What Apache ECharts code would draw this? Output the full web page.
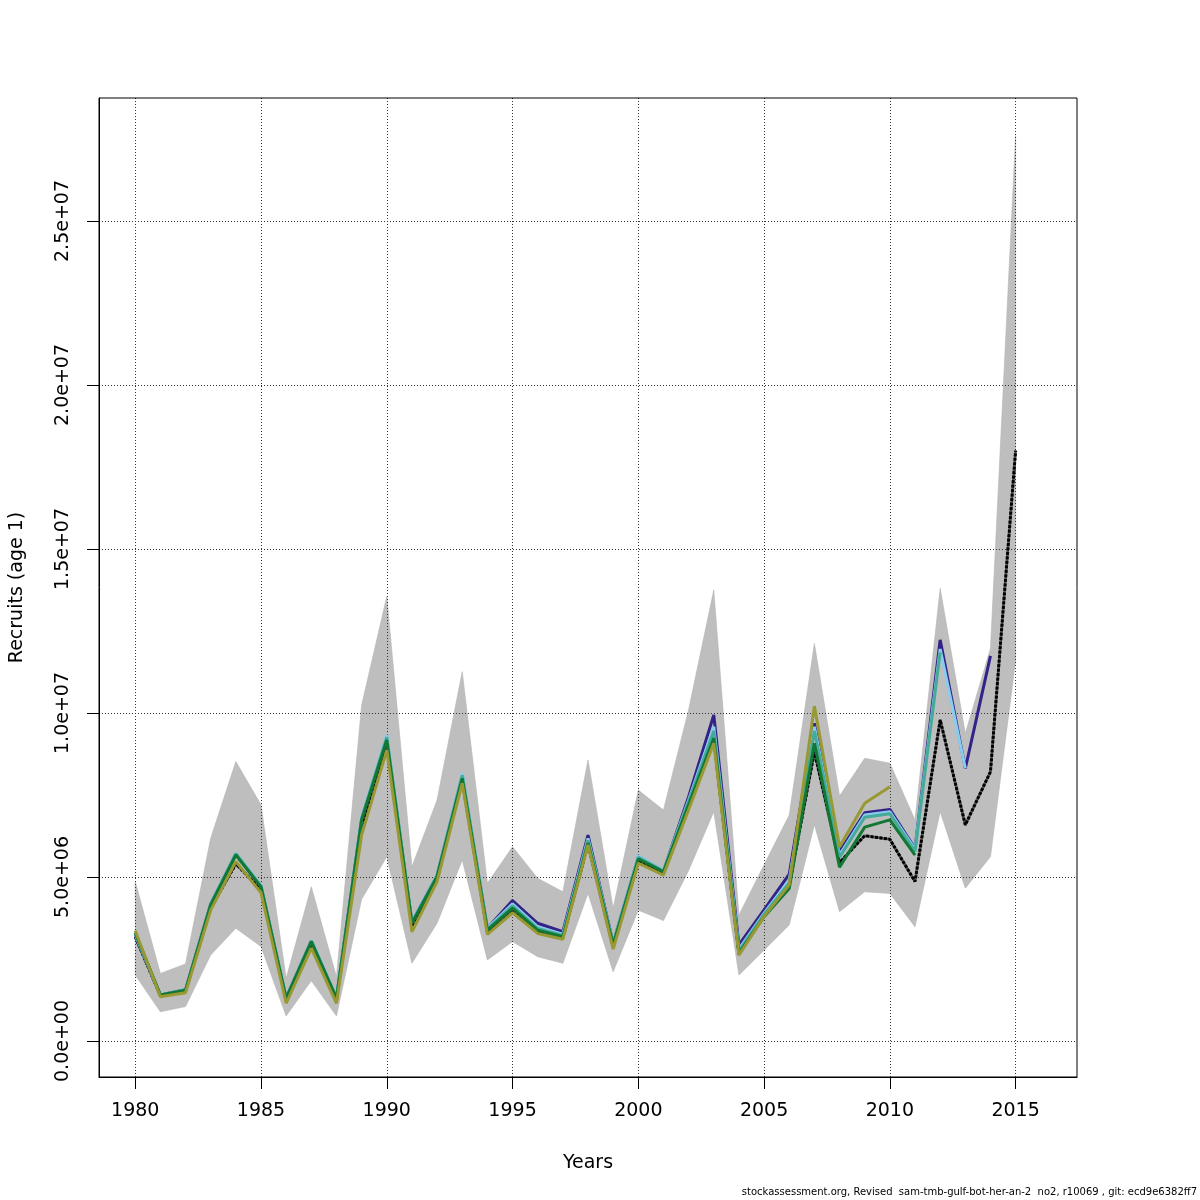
<!DOCTYPE html>
<html>
<head>
<meta charset="utf-8">
<script src="https://cdn.jsdelivr.net/npm/echarts@6/dist/echarts.min.js"></script>
<style>
  html, body { margin: 0; padding: 0; background: #fff; }
  #main { width: 1200px; height: 1200px; }
</style>
</head>
<body>
<div id="main"></div>
<script>
// recruits in millions
var years = [1980, 1981, 1982, 1983, 1984, 1985, 1986, 1987, 1988, 1989,
             1990, 1991, 1992, 1993, 1994, 1995, 1996, 1997, 1998, 1999,
             2000, 2001, 2002, 2003, 2004, 2005, 2006, 2007, 2008, 2009,
             2010, 2011, 2012, 2013, 2014, 2015];

var bandHigh = [4.86, 2.06, 2.35, 6.18, 8.52, 7.20, 1.91, 4.70, 1.96, 10.24,
                13.55, 5.31, 7.35, 11.26, 4.81, 5.92, 4.96, 4.55, 8.57, 4.05,
                7.65, 7.04, 10.10, 13.75, 3.84, 5.37, 6.89, 12.12, 7.47, 8.62,
                8.47, 6.74, 13.80, 9.38, 11.97, 27.60];
var bandLow = [2.01, 0.89, 1.05, 2.62, 3.44, 2.88, 0.76, 1.84, 0.76, 4.32,
               5.62, 2.37, 3.59, 5.52, 2.47, 3.03, 2.57, 2.37, 4.50, 2.11,
               3.99, 3.67, 5.20, 6.99, 2.01, 2.77, 3.54, 6.59, 3.94, 4.55,
               4.50, 3.48, 6.99, 4.66, 5.62, 11.60];

var fullRun = [3.18, 1.38, 1.53, 4.05, 5.40, 4.62, 1.25, 2.95, 1.25, 6.55,
               9.05, 3.50, 4.95, 7.95, 3.33, 4.00, 3.35, 3.15, 6.00, 2.88,
               5.50, 5.10, 7.15, 9.20, 2.65, 3.85, 4.75, 8.82, 5.44, 6.26,
               6.15, 4.86, 9.79, 6.59, 8.21, 18.00];
var peel2014 = [3.22, 1.40, 1.56, 4.17, 5.70, 4.72, 1.31, 3.05, 1.31, 6.76,
                9.25, 3.62, 5.05, 8.10, 3.44, 4.28, 3.59, 3.33, 6.28, 2.98,
                5.62, 5.18, 7.45, 9.94, 2.93, 4.00, 5.09, 9.69, 5.77, 6.96,
                7.06, 5.87, 12.23, 8.31, 11.74];
var peel2013 = [3.24, 1.40, 1.56, 4.18, 5.73, 4.74, 1.33, 3.07, 1.33, 6.80,
                9.33, 3.63, 5.06, 8.17, 3.44, 4.18, 3.48, 3.26, 6.18, 2.98,
                5.65, 5.20, 7.35, 9.58, 2.80, 3.90, 4.90, 9.58, 5.67, 6.89,
                6.99, 5.84, 11.95, 8.31];
var peel2012 = [3.27, 1.40, 1.56, 4.17, 5.71, 4.72, 1.32, 3.05, 1.32, 6.78,
                9.26, 3.61, 5.04, 8.10, 3.41, 4.12, 3.43, 3.22, 6.12, 2.96,
                5.60, 5.18, 7.30, 9.45, 2.74, 3.86, 4.82, 9.45, 5.60, 6.82,
                6.93, 5.78, 11.85];
var peel2011 = [3.30, 1.40, 1.55, 4.15, 5.67, 4.70, 1.30, 3.03, 1.30, 6.74,
                9.18, 3.59, 5.01, 8.01, 3.38, 4.05, 3.38, 3.18, 6.03, 2.93,
                5.55, 5.16, 7.20, 9.23, 2.67, 3.79, 4.65, 9.08, 5.30, 6.52,
                6.74, 5.67];
var peel2010 = [3.36, 1.35, 1.47, 3.99, 5.47, 4.52, 1.15, 2.83, 1.15, 6.28,
                8.87, 3.33, 4.86, 7.86, 3.25, 3.91, 3.28, 3.10, 5.98, 2.80,
                5.42, 5.06, 7.05, 9.08, 2.62, 3.80, 4.76, 10.21, 5.92, 7.25,
                7.75];

var xTicks = [1980, 1985, 1990, 1995, 2000, 2005, 2010, 2015];
var yTicks = [0, 5, 10, 15, 20, 25];

var FONT = 'DejaVu Sans';

function pairs(arr) {
    return arr.map(function (v, i) { return [years[i], v]; });
}

// 0 -> 0.0e+00, 5 -> 5.0e+06 (axis is in millions)
function sci(v) {
    var s = (v * 1e6).toExponential(1).split('e');
    var sign = s[1].charAt(0);
    var exp = s[1].slice(1);
    if (exp.length < 2) exp = '0' + exp;
    return s[0] + 'e' + sign + exp;
}

function peelLine(name, arr, color) {
    return {
        name: name,
        type: 'line',
        data: pairs(arr),
        showSymbol: false,
        symbol: 'none',
        lineStyle: { color: color, width: 3 },
        z: 3
    };
}

var chart = echarts.init(document.getElementById('main'));

var option = {
    backgroundColor: '#ffffff',
    animation: false,
    grid: {
        left: 98, right: 123, top: 98, bottom: 123,
        show: true,
        borderColor: '#000',
        borderWidth: 1,
        backgroundColor: 'transparent',
        z: 1
    },
    xAxis: {
        type: 'value',
        min: 1978.56,
        max: 2017.44,
        name: 'Years',
        nameLocation: 'middle',
        nameGap: 77,
        nameTextStyle: { color: '#000', fontSize: 19, fontFamily: FONT },
        axisLine: { show: true, onZero: false, lineStyle: { color: '#000', width: 1 } },
        axisTick: {
            show: true, inside: false, length: 12,
            customValues: xTicks,
            lineStyle: { color: '#000' }
        },
        axisLabel: {
            customValues: xTicks,
            margin: 25,
            color: '#000',
            fontSize: 19,
            fontFamily: FONT,
            formatter: function (v) { return String(v); }
        },
        splitLine: {
            show: true,
            lineStyle: { color: '#333', width: 1, type: [1, 2] }
        }
    },
    yAxis: {
        type: 'value',
        min: -1.0976,
        max: 28.75,
        name: 'Recruits (age 1)',
        nameLocation: 'middle',
        nameRotate: 90,
        nameGap: 72,
        nameTextStyle: { color: '#000', fontSize: 19, fontFamily: FONT },
        axisLine: { show: true, lineStyle: { color: '#000', width: 1 } },
        axisTick: {
            show: true, inside: false, length: 12,
            customValues: yTicks,
            lineStyle: { color: '#000' }
        },
        axisLabel: {
            customValues: yTicks,
            rotate: 90,
            margin: 26,
            color: '#000',
            fontSize: 19,
            fontFamily: FONT,
            formatter: sci
        },
        splitLine: {
            show: true,
            lineStyle: { color: '#333', width: 1, type: [1, 2] }
        }
    },
    graphic: [{
        type: 'text',
        right: 3,
        bottom: 3,
        style: {
            text: 'stockassessment.org, Revised  sam-tmb-gulf-bot-her-an-2  no2, r10069 , git: ecd9e6382ff7',
            font: '10px ' + FONT,
            fill: '#000'
        }
    }],
    series: [
        {
            // confidence band, drawn under the grid lines
            name: 'band',
            type: 'custom',
            z: -1,
            silent: true,
            data: [0],
            renderItem: function (params, api) {
                var pts = [];
                for (var i = 0; i < years.length; i++) {
                    pts.push(api.coord([years[i], bandHigh[i]]));
                }
                for (var j = years.length - 1; j >= 0; j--) {
                    pts.push(api.coord([years[j], bandLow[j]]));
                }
                return {
                    type: 'polygon',
                    shape: { points: pts },
                    style: { fill: '#bebebe', stroke: '#b4b4b4', lineWidth: 0.6 }
                };
            }
        },
        {
            // dark grey under the dashes of the full run
            name: 'full-under',
            type: 'line',
            data: pairs(fullRun),
            showSymbol: false,
            symbol: 'none',
            lineStyle: { color: '#555555', width: 2.6 },
            z: 2
        },
        {
            name: 'full',
            type: 'line',
            data: pairs(fullRun),
            showSymbol: false,
            symbol: 'none',
            lineStyle: { color: '#000', width: 3, type: [3, 1.5] },
            z: 2
        },
        peelLine('2014', peel2014, '#332288'),
        peelLine('2013', peel2013, '#88CCEE'),
        peelLine('2012', peel2012, '#44AA99'),
        peelLine('2011', peel2011, '#117733'),
        peelLine('2010', peel2010, '#999933')
    ]
};

chart.setOption(option);
</script>
</body>
</html>
